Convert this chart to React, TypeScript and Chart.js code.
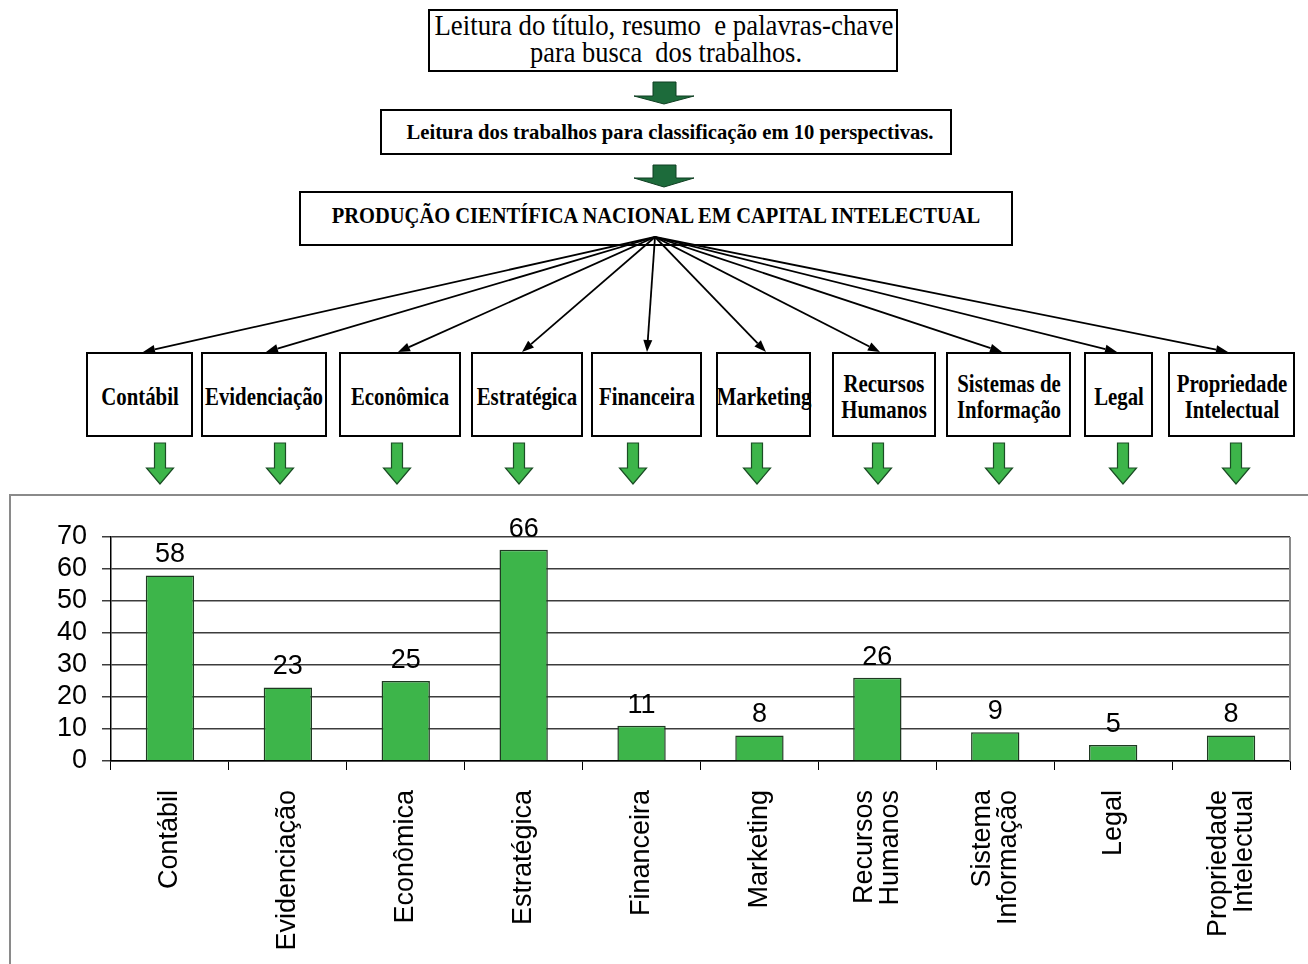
import React, { useEffect, useRef } from "react";
import { Chart, registerables } from "chart.js";
Chart.register(...registerables);

// ---------- data ----------
const categories = [
  "Contábil",
  "Evidenciação",
  "Econômica",
  "Estratégica",
  "Financeira",
  "Marketing",
  "Recursos\nHumanos",
  "Sistema\nInformação",
  "Legal",
  "Propriedade\nIntelectual",
];
const counts = [58, 23, 25, 66, 11, 8, 26, 9, 5, 8];
const yTicks = [0, 10, 20, 30, 40, 50, 60, 70];

const perspectives = [
  "Contábil",
  "Evidenciação",
  "Econômica",
  "Estratégica",
  "Financeira",
  "Marketing",
  "Recursos\nHumanos",
  "Sistemas de\nInformação",
  "Legal",
  "Propriedade\nIntelectual",
];
const step1 = ["Leitura do título, resumo  e palavras-chave", "para busca  dos trabalhos."];
const step2 = "Leitura dos trabalhos para classificação em 10 perspectivas.";
const step3 = "PRODUÇÃO CIENTÍFICA NACIONAL EM CAPITAL INTELECTUAL";

// ---------- layout (page pixels) ----------
const boxSpans = [
  [86, 193], [201, 327], [339, 461], [471, 583], [591, 702],
  [716, 811], [832, 936], [946, 1071], [1084, 1153], [1168, 1295],
];
const fanTips = [143, 266, 398, 522, 647, 766, 880, 1002, 1117, 1228];
const greenArrowX = [160, 280, 397, 519, 633, 757, 878, 999, 1123, 1236];
const FAN_ORIGIN = [655, 237];

const SERIF = '"Liberation Serif", "Times New Roman", serif';
const SANS = '"Liberation Sans", Arial, sans-serif';

let mctx: CanvasRenderingContext2D | null = null;
function measure(text: string, font: string) {
  if (!mctx) mctx = document.createElement("canvas").getContext("2d");
  mctx!.font = font;
  return mctx!.measureText(text).width;
}

function Line(props: { text: string; size: number; bold?: boolean; cx: number; cy: number; width?: number; scale?: number }) {
  const { text, size, bold, cx, cy, width, scale } = props;
  const font = `${bold ? "bold " : ""}${size}px ${SERIF}`;
  const s = width ? width / measure(text, font) : scale ?? 1;
  return (
    <div
      style={{
        position: "absolute",
        left: cx,
        top: cy,
        transform: `translate(-50%, -50%) scaleX(${s})`,
        font,
        lineHeight: `${size}px`,
        whiteSpace: "pre",
        color: "#000",
      }}
    >
      {text}
    </div>
  );
}

function Box(props: { x1: number; y1: number; x2: number; y2: number }) {
  const { x1, y1, x2, y2 } = props;
  return (
    <div
      style={{
        position: "absolute",
        left: x1,
        top: y1,
        width: x2 - x1,
        height: y2 - y1,
        border: "2px solid #000",
        boxSizing: "border-box",
        background: "#fff",
      }}
    />
  );
}

function darkArrow(cx: number, top: number, headY: number, tip: number) {
  const pts = [
    [cx - 11, top], [cx + 12, top], [cx + 12, headY], [cx + 30, headY],
    [cx, tip], [cx - 30, headY], [cx - 11, headY],
  ];
  return pts.map((p) => p.join(",")).join(" ");
}

function greenArrow(cx: number) {
  const top = 443, headY = 468, tip = 484;
  const pts = [
    [cx - 5.5, top], [cx + 5.5, top], [cx + 5.5, headY], [cx + 13.5, headY],
    [cx, tip], [cx - 13.5, headY], [cx - 5.5, headY],
  ];
  return pts.map((p) => p.join(",")).join(" ");
}

function fanArrow(tx: number, ty: number, key: number) {
  const [ox, oy] = FAN_ORIGIN;
  const dx = tx - ox, dy = ty - oy;
  const len = Math.hypot(dx, dy);
  const ux = dx / len, uy = dy / len;
  const L = 12, W = 4.5;
  const bx = tx - ux * L, by = ty - uy * L;
  const nx = -uy, ny = ux;
  return (
    <g key={key}>
      <line x1={ox} y1={oy} x2={bx} y2={by} stroke="#000" strokeWidth={1.8} />
      <polygon
        points={`${tx},${ty} ${bx + nx * W},${by + ny * W} ${bx - nx * W},${by - ny * W}`}
        fill="#000"
      />
    </g>
  );
}

const chartPlugin = {
  id: "customLabels",
  afterDraw(chart: any) {
    const ctx = chart.ctx as CanvasRenderingContext2D;
    const xs = chart.scales.x;
    const area = chart.chartArea;
    ctx.save();
    // right border of plot area
    ctx.strokeStyle = "#8a8a8a";
    ctx.lineWidth = 2;
    ctx.beginPath();
    ctx.moveTo(area.right, area.top);
    ctx.lineTo(area.right, area.bottom);
    ctx.stroke();

    // value labels
    ctx.fillStyle = "#000";
    ctx.font = `27px ${SANS}`;
    ctx.textAlign = "center";
    ctx.textBaseline = "alphabetic";
    const meta = chart.getDatasetMeta(0);
    meta.data.forEach((bar: any, i: number) => {
      ctx.fillText(String(counts[i]), bar.x, bar.y - 13);
    });

    // rotated category labels
    ctx.textAlign = "right";
    ctx.textBaseline = "middle";
    const top = xs.top + 9 + 20;
    categories.forEach((lab, i) => {
      const lines = lab.split("\n");
      const px = xs.getPixelForValue(i);
      lines.forEach((ln, j) => {
        const off = (j - (lines.length - 1) / 2) * 26;
        ctx.save();
        ctx.translate(px + off, top);
        ctx.rotate(-Math.PI / 2);
        ctx.fillText(ln, 0, 0);
        ctx.restore();
      });
    });
    ctx.restore();
  },
};

function BarChart() {
  const ref = useRef<HTMLCanvasElement | null>(null);
  useEffect(() => {
    if (!ref.current) return;
    const chart = new Chart(ref.current, {
      type: "bar",
      data: {
        labels: categories,
        datasets: [
          {
            data: counts,
            backgroundColor: "#3db54a",
            borderColor: "#1f3a22",
            borderWidth: 1.5,
            barPercentage: 0.41,
            categoryPercentage: 1,
          },
        ],
      },
      options: {
        animation: false,
        responsive: true,
        maintainAspectRatio: false,
        layout: { padding: { top: 42, right: 18, left: 0, bottom: 0 } },
        plugins: { legend: { display: false }, tooltip: { enabled: false } },
        scales: {
          x: {
            grid: {
              display: true,
              offset: true,
              drawOnChartArea: false,
              drawTicks: true,
              tickLength: 9,
              color: "#000",
              lineWidth: 1,
            },
            border: { display: true, color: "#000", width: 1.5 },
            ticks: { display: false },
            afterFit: (s: any) => {
              s.height = 203;
            },
          },
          y: {
            min: 0,
            max: 70,
            afterBuildTicks: (s: any) => {
              s.ticks = yTicks.map((v) => ({ value: v }));
            },
            grid: { color: "#3c3c3c", lineWidth: 1.5, tickLength: 9 },
            border: { display: true, color: "#000", width: 1.5 },
            ticks: {
              font: { size: 27, family: SANS },
              color: "#000",
              padding: 15,
              autoSkip: false,
              stepSize: 10,
            },
            afterFit: (s: any) => {
              s.width = 101;
            },
          },
        },
      } as any,
      plugins: [chartPlugin],
    });
    return () => chart.destroy();
  }, []);
  return (
    <div style={{ position: "absolute", left: 10, top: 495, width: 1298, height: 469 }}>
      <canvas ref={ref} />
    </div>
  );
}

export default function App() {
  return (
    <div
      style={{
        position: "absolute",
        left: 0,
        top: 0,
        width: 1308,
        height: 964,
        overflow: "hidden",
        background: "#fff",
      }}
    >
      {/* chart frame */}
      <div
        style={{
          position: "absolute",
          left: 9,
          top: 494,
          width: 1400,
          height: 600,
          border: "2px solid #8a8a8a",
          boxSizing: "border-box",
        }}
      />

      <Box x1={428} y1={9} x2={898} y2={72} />
      <Line text={step1[0]} size={30} cx={663.5} cy={24.5} width={459} />
      <Line text={step1[1]} size={30} cx={666} cy={51.5} width={272} />

      <Box x1={380} y1={109} x2={952} y2={155} />
      <Line text={step2} size={21} bold cx={669.5} cy={132} width={527} />

      <Box x1={299} y1={191} x2={1013} y2={246} />
      <Line text={step3} size={24} bold cx={656} cy={215} width={652} />

      {perspectives.map((p, i) => {
        const [x1, x2] = boxSpans[i];
        const lines = p.split("\n");
        return (
          <React.Fragment key={i}>
            <Box x1={x1} y1={352} x2={x2} y2={437} />
            {lines.map((ln, j) => (
              <Line
                key={j}
                text={ln}
                size={26}
                bold
                cx={(x1 + x2) / 2}
                cy={396.5 + (j - (lines.length - 1) / 2) * 26}
                scale={0.8}
              />
            ))}
          </React.Fragment>
        );
      })}

      <svg
        width={1308}
        height={964}
        style={{ position: "absolute", left: 0, top: 0, pointerEvents: "none" }}
      >
        <polygon points={darkArrow(664, 82, 96, 104)} fill="#1d6b3b" stroke="#0f3f22" strokeWidth={1} />
        <polygon points={darkArrow(664, 165, 178, 187)} fill="#1d6b3b" stroke="#0f3f22" strokeWidth={1} />
        {fanTips.map((tx, i) => fanArrow(tx, 352, i))}
        {greenArrowX.map((x, i) => (
          <polygon key={i} points={greenArrow(x)} fill="#3db54a" stroke="#1b4d25" strokeWidth={1.2} />
        ))}
      </svg>

      <BarChart />
    </div>
  );
}
